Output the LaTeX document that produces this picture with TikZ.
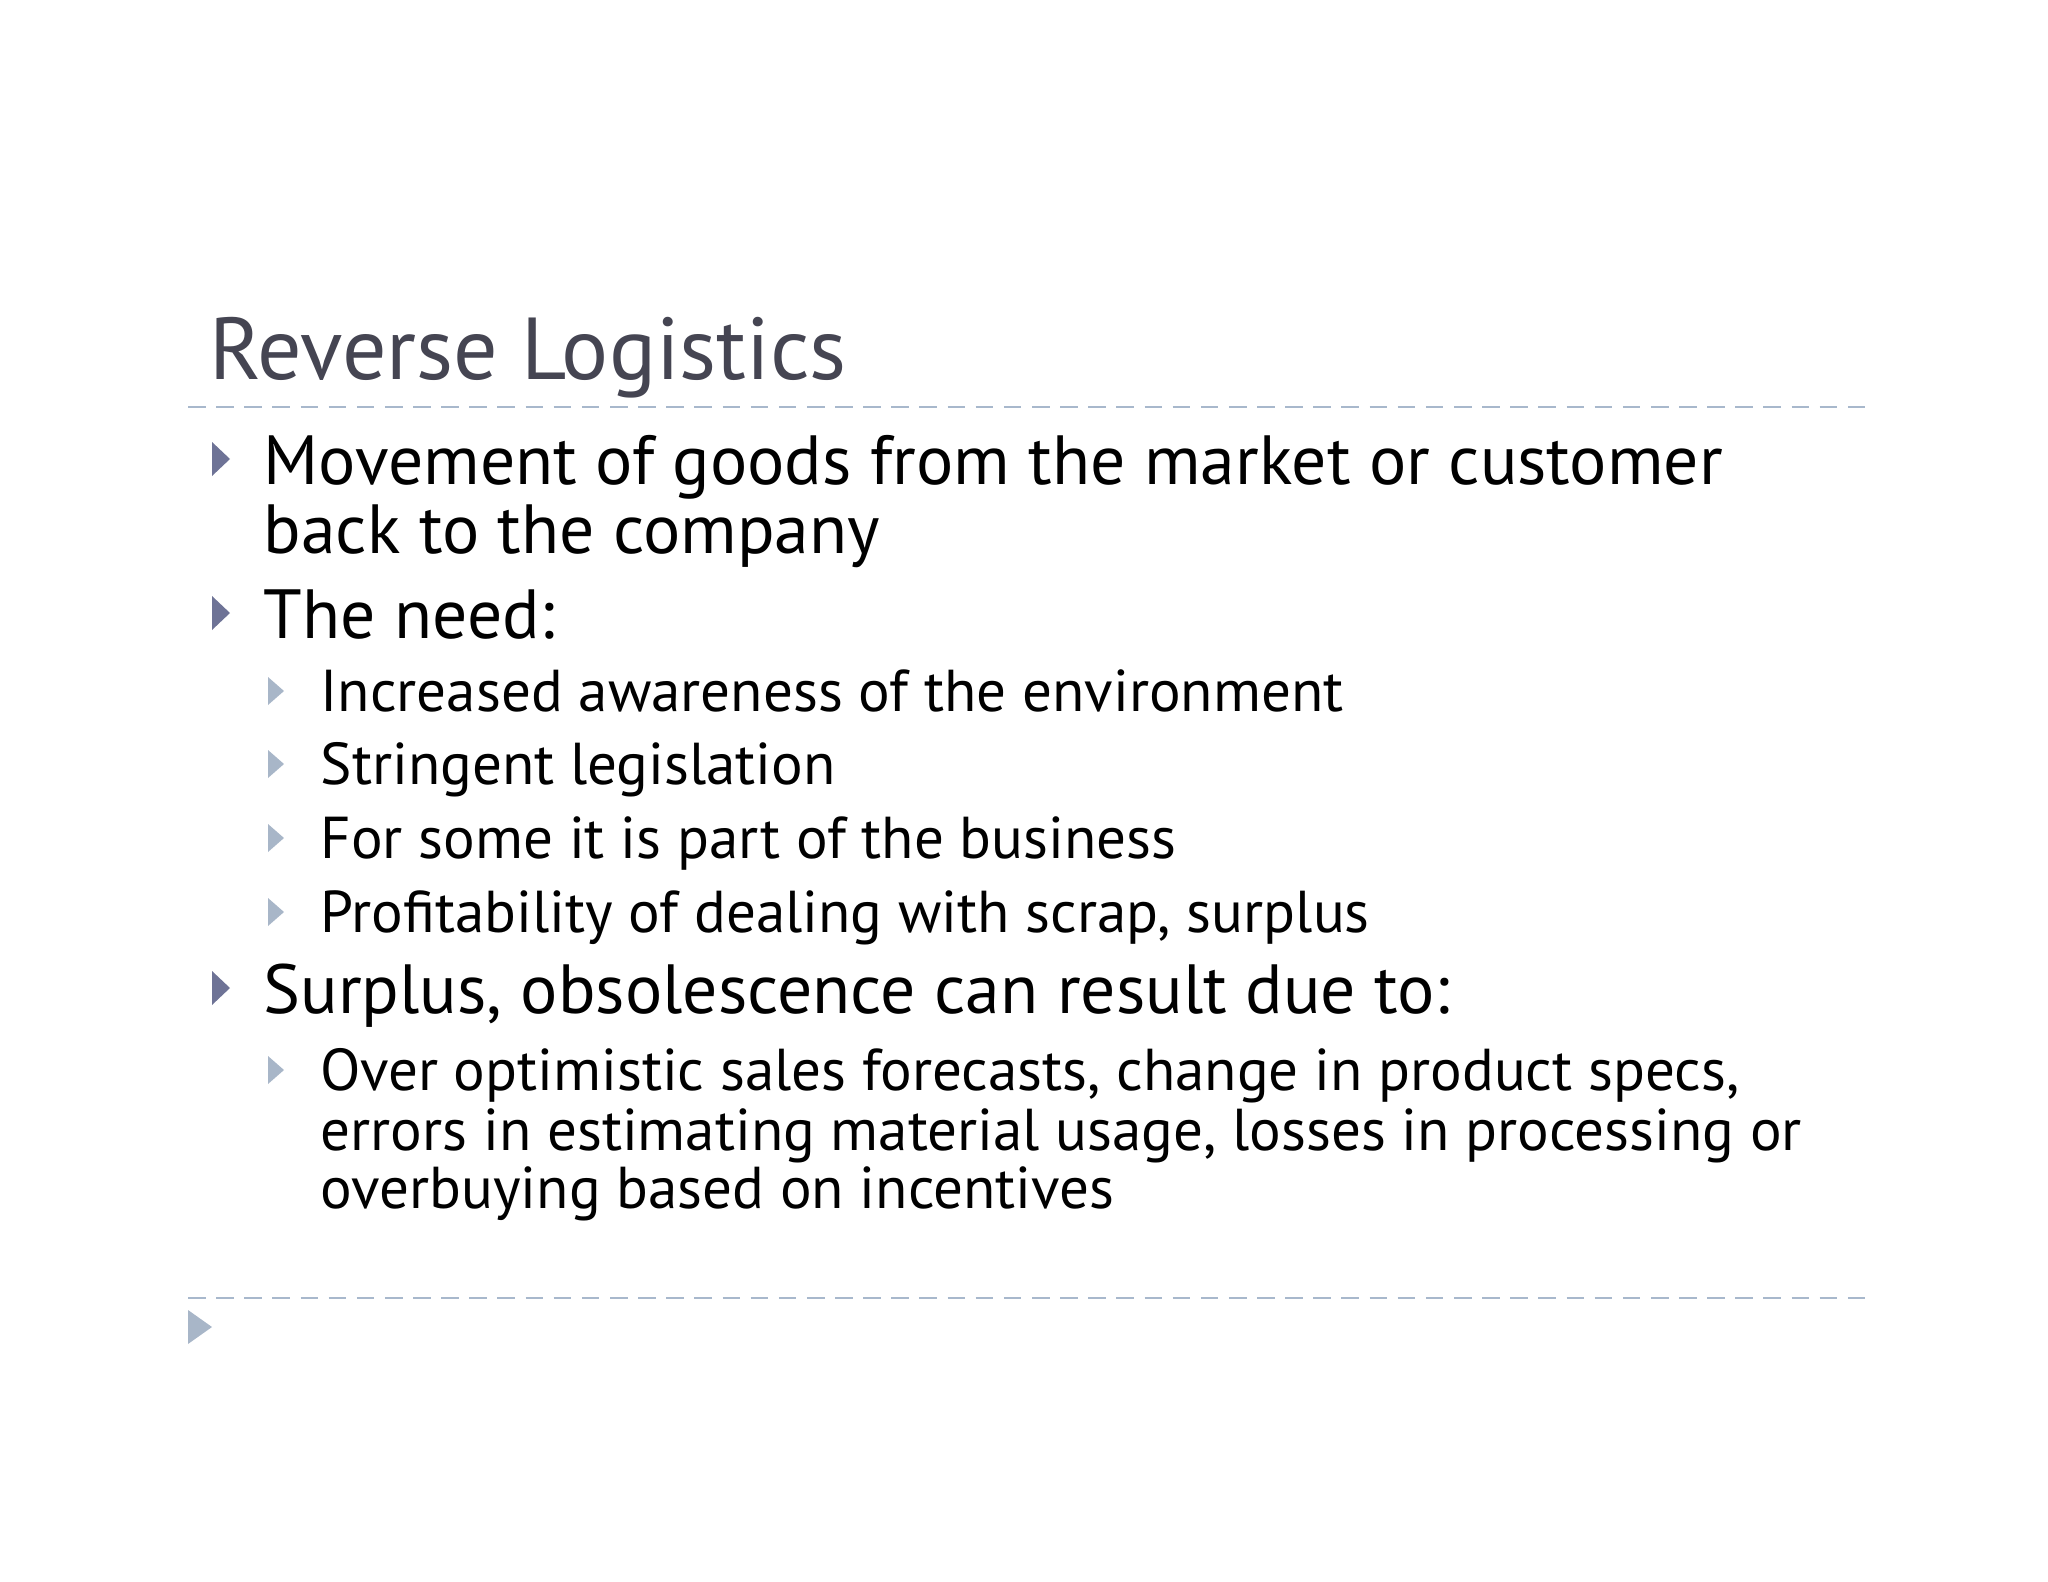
\documentclass[tikz,border=0pt]{standalone}
\usepackage{fontspec}
\setmainfont{PT Sans}
\definecolor{titlec}{HTML}{454552}
\definecolor{bulA}{HTML}{6E7396}
\definecolor{bulB}{HTML}{A8B6C8}
\definecolor{dashc}{HTML}{A8B8CC}
\begin{document}
\begin{tikzpicture}[x=0.01cm,y=-0.01cm,
  lone/.style={anchor=base west,font=\fontsize{19.8}{19}\selectfont,inner sep=0},
  ltwo/.style={anchor=base west,font=\fontsize{16.8}{16.5}\selectfont,inner sep=0},
  ba/.style={fill=bulA},
  bb/.style={fill=bulB},
  dl/.style={draw=dashc,dash pattern=on 5pt off 3pt,line width=0.8pt}]
\useasboundingbox (0,0) rectangle (2048,1582);
\node[anchor=base west,inner sep=0,text=titlec,font=\fontsize{25}{25}\selectfont] (title) at (209,379) {Reverse Logistics};
\coordinate (d1a) at (188,407); \coordinate (d1b) at (1875,407);
\draw[dl] (d1a) -- (d1b);
\coordinate (d2a) at (188,1298); \coordinate (d2b) at (1875,1298);
\draw[dl] (d2a) -- (d2b);
\newcommand{\bA}[1]{\fill[ba] (212,#1-42) -- (230,#1-25) -- (212,#1-8) -- cycle;}
\newcommand{\bB}[1]{\fill[bb] (268,#1-34) -- (284,#1-20) -- (268,#1-6) -- cycle;}
\bA{484}\bA{638}\bA{1013}
\bB{711}\bB{784}\bB{858}\bB{932}\bB{1090}
\fill[bulB] (188,1310) -- (212,1327) -- (188,1344) -- cycle;
\node[lone] (a1) at (263,484) {Movement of goods from the market or customer};
\node[lone] (a1b) at (263,553) {back to the company};
\node[lone] (a2) at (263,638) {The need:};
\node[ltwo] (b1) at (320,711) {Increased awareness of the environment};
\node[ltwo] (b2) at (320,784) {Stringent legislation};
\node[ltwo] (b3) at (320,858) {For some it is part of the business};
\node[ltwo] (b4) at (320,932) {Profitability of dealing with scrap, surplus};
\node[lone] (a3) at (263,1013) {Surplus, obsolescence can result due to:};
\node[ltwo] (b5) at (320,1090) {Over optimistic sales forecasts, change in product specs,};
\node[ltwo] (b5b) at (320,1150) {errors in estimating material usage, losses in processing or};
\node[ltwo] (b5c) at (320,1208) {overbuying based on incentives};
\end{tikzpicture}
\end{document}
